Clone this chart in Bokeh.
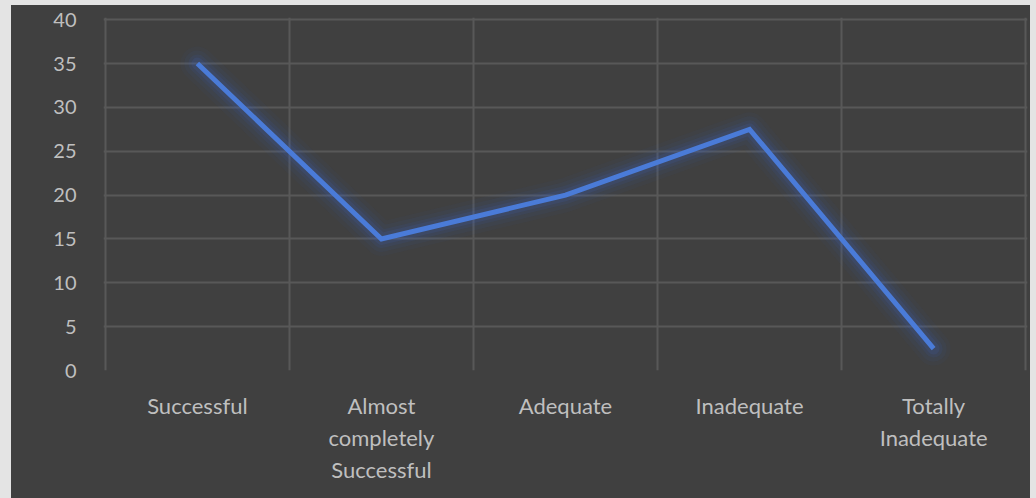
from bokeh.plotting import figure
from bokeh.models import FixedTicker, ColumnDataSource
from bokeh.layouts import column
from bokeh.embed import file_html
from bokeh.resources import INLINE

categories = ["Successful", "Almost\ncompletely\nSuccessful", "Adequate", "Inadequate", "Totally\nInadequate"]
values = [35, 15, 20, 27.5, 2.5]
y_ticks = [0, 5, 10, 15, 20, 25, 30, 35, 40]

xs = list(range(len(categories)))
src = ColumnDataSource(dict(x=xs, y=values))

p = figure(width=1019, height=493, output_backend="svg", toolbar_location=None,
           x_range=(-0.51, len(categories) - 0.49), y_range=(0, 40.25),
           min_border_left=92, min_border_right=3, min_border_top=12, min_border_bottom=128)
p.background_fill_color = "#404040"
p.border_fill_color = "#404040"
p.outline_line_color = None

p.xaxis.ticker = FixedTicker(ticks=xs)
p.xaxis.major_label_overrides = {i: c for i, c in enumerate(categories)}
p.yaxis.ticker = FixedTicker(ticks=y_ticks)

p.xaxis.axis_line_color = None
p.yaxis.axis_line_color = None
p.xaxis.major_tick_line_color = None
p.yaxis.major_tick_line_color = None
p.xaxis.minor_tick_line_color = None
p.yaxis.minor_tick_line_color = None
p.xaxis.major_label_text_color = "#bfbfbf"
p.yaxis.major_label_text_color = "#bfbfbf"
p.xaxis.major_label_text_font = "Lato"
p.yaxis.major_label_text_font = "Lato"
p.xaxis.major_label_text_font_size = "22px"
p.yaxis.major_label_text_font_size = "20px"
p.xaxis.major_label_standoff = 15
p.xaxis.major_label_text_line_height = 1.2
p.yaxis.major_label_standoff = 21

p.xgrid.ticker = FixedTicker(ticks=[i - 0.5 for i in range(len(categories) + 1)])
p.ygrid.ticker = FixedTicker(ticks=y_ticks[1:])
p.xgrid.grid_line_color = "#585858"
p.ygrid.grid_line_color = "#585858"
p.xgrid.grid_line_width = 2
p.ygrid.grid_line_width = 2

for w, a in [(34, 0.04), (26, 0.06), (18, 0.09), (12, 0.13)]:
    p.line("x", "y", source=src, line_width=w, line_color="#3a66c8", line_alpha=a, line_join="round", line_cap="round")
p.line("x", "y", source=src, line_width=5, line_color="#4a7bd8", line_join="miter")

inner = column(p, styles={"background-color": "#404040"}, width=1019, height=493, margin=(5, 6, 0, 11))
lay = column(inner, styles={"background-color": "#e4e4e4"}, width=1036, height=498)
open("out.html", "w").write(file_html(lay, INLINE))
